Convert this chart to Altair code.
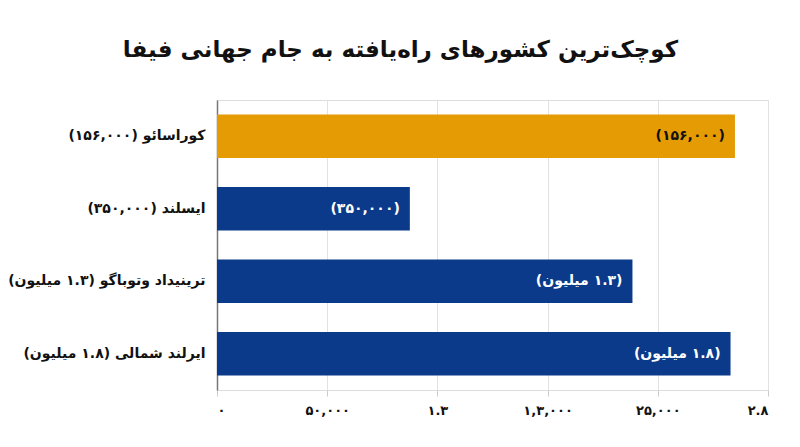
import json
import altair as alt
import pandas as pd

RLM = "\u200f"

# country labels (y axis), value labels (in bars), bar length in tick units
countries = [
    "کوراسائو (۱۵۶,۰۰۰)",
    "ایسلند (۳۵۰,۰۰۰)",
    "ترینیداد وتوباگو (۱.۳ میلیون)",
    "ایرلند شمالی (۱.۸ میلیون)",
]
bar_labels = ["(۱۵۶,۰۰۰)", "(۳۵۰,۰۰۰)", "(۱.۳ میلیون)", "(۱.۸ میلیون)"]
values = [4.70, 1.75, 3.77, 4.66]
highlight = countries[0]

tick_values = [0, 1, 2, 3, 4, 5]
tick_labels = ["۰", "۵۰,۰۰۰", "۱.۳", "۱,۳,۰۰۰", "۲۵,۰۰۰", "۲.۸"]

FONT = "DejaVu Sans"

df = pd.DataFrame({
    "country": [RLM + c + RLM for c in countries],
    "label": [RLM + t + RLM for t in bar_labels],
    "value": values,
})
df["group"] = ["highlight" if c == highlight else "other" for c in countries]

y_enc = alt.Y(
    "country:N",
    sort=None,
    title=None,
    scale=alt.Scale(paddingInner=0.4, paddingOuter=0.2),
    axis=alt.Axis(
        labelFont=FONT, labelFontSize=14, labelFontWeight="bold",
        labelColor="#111", labelPadding=12, ticks=False,
        domainColor="#777", domainWidth=1.5, labelLimit=250,
    ),
)

x_enc = alt.X(
    "value:Q",
    title=None,
    scale=alt.Scale(domain=[0, 5], nice=False),
    axis=alt.Axis(
        values=tick_values,
        labelExpr=json.dumps(tick_labels) + "[datum.value]",
        labelFont=FONT, labelFontSize=13, labelFontWeight="bold",
        labelColor="#111", labelPadding=8,
        domain=False, tickColor="#ccc", tickSize=6,
        gridColor="#e2e2e2", grid=True,
    ),
)

base = alt.Chart(df)

bars = base.mark_bar().encode(
    x=x_enc,
    y=y_enc,
    color=alt.Color(
        "group:N",
        scale=alt.Scale(domain=["highlight", "other"], range=["#E49B04", "#0B3A8A"]),
        legend=None,
    ),
)

text = base.mark_text(
    align="right", baseline="middle", dx=-10,
    font=FONT, fontSize=14, fontWeight="bold",
).encode(
    x="value:Q",
    y=alt.Y("country:N", sort=None),
    text="label:N",
    color=alt.Color(
        "group:N",
        scale=alt.Scale(domain=["highlight", "other"], range=["#111111", "#ffffff"]),
        legend=None,
    ),
)

chart = alt.layer(bars, text).resolve_scale(color="independent").properties(
    width=551,
    height=290,
    autosize="none",
    padding={"left": 209, "top": 92, "right": 24, "bottom": 49},
    title=alt.TitleParams(
        RLM + "کوچک‌ترین کشورهای راه‌یافته به جام جهانی فیفا" + RLM,
        font=FONT, fontSize=23, fontWeight="bold", color="#111",
        anchor="middle", dx=-92, offset=38,
    ),
).configure_view(stroke=None).configure(background="white")

chart.save("out.html", embed_options={"renderer": "svg", "actions": False})
